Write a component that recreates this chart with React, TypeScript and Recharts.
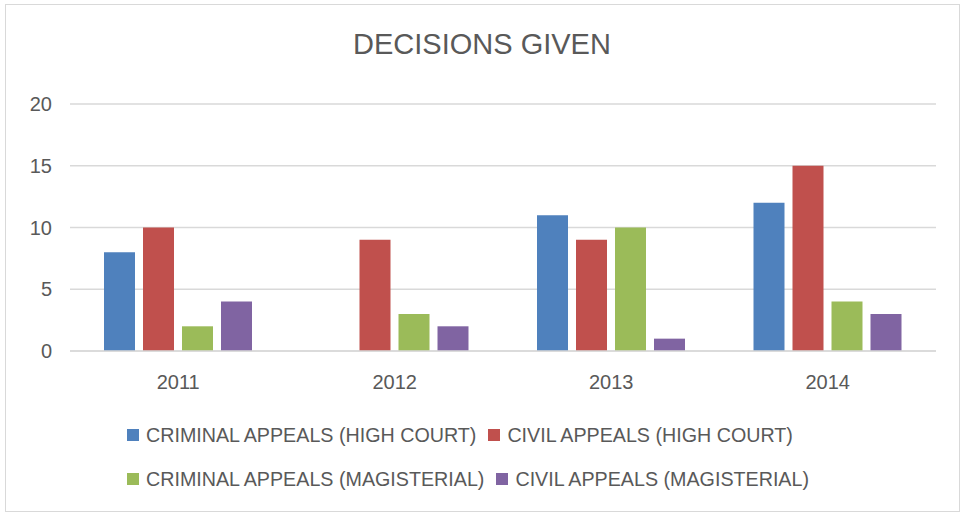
import { BarChart, Bar, XAxis, YAxis, CartesianGrid } from "recharts";

const years = ["2011", "2012", "2013", "2014"];
const criminalHigh = [8, 0, 11, 12];
const civilHigh = [10, 9, 9, 15];
const criminalMag = [2, 3, 10, 4];
const civilMag = [4, 2, 1, 3];
const yTicks = [0, 5, 10, 15, 20];

const series = [
  { key: "criminalHigh", name: "CRIMINAL APPEALS (HIGH COURT)", color: "#4F81BD" },
  { key: "civilHigh", name: "CIVIL APPEALS (HIGH COURT)", color: "#C0504D" },
  { key: "criminalMag", name: "CRIMINAL APPEALS (MAGISTERIAL)", color: "#9BBB59" },
  { key: "civilMag", name: "CIVIL APPEALS (MAGISTERIAL)", color: "#8064A2" },
];

const data = years.map((year, i) => ({
  year,
  criminalHigh: criminalHigh[i],
  civilHigh: civilHigh[i],
  criminalMag: criminalMag[i],
  civilMag: civilMag[i],
}));

const FONT = "'Liberation Sans', Arial, sans-serif";
const TEXT = "#595959";

// legend drawn by hand: two rows, in series order
function TwoRowLegend() {
  const rows = [series.slice(0, 2), series.slice(2, 4)];
  return (
    <div style={{ position: "absolute", left: 127, top: 413 }}>
      {rows.map((row, r) => (
        <div key={r} style={{ display: "flex", alignItems: "center", height: 44 }}>
          {row.map((s) => (
            <div key={s.key} style={{ display: "flex", alignItems: "center", marginRight: 12 }}>
              <span style={{ width: 12, height: 12, background: s.color, marginRight: 7, display: "inline-block" }} />
              <span style={{ fontSize: 19.7, color: TEXT, whiteSpace: "nowrap" }}>{s.name}</span>
            </div>
          ))}
        </div>
      ))}
    </div>
  );
}

export default function App() {
  return (
    <div style={{ position: "absolute", left: 0, top: 0, width: 964, height: 515, background: "#fff", fontFamily: FONT }}>
      <div
        style={{
          position: "absolute",
          left: 5,
          top: 4,
          width: 953,
          height: 506,
          border: "1px solid #d9d9d9",
        }}
      />
      <div
        style={{
          position: "absolute",
          left: 0,
          top: 28,
          width: 964,
          textAlign: "center",
          fontSize: 29,
          color: TEXT,
        }}
      >
        DECISIONS GIVEN
      </div>
      <BarChart
        width={964}
        height={515}
        data={data}
        margin={{ top: 104, right: 28, bottom: 104, left: 0 }}
        barSize={31}
        barGap={8}
        style={{ position: "absolute", left: 0, top: 0 }}
      >
        <CartesianGrid vertical={false} stroke="#d9d9d9" strokeWidth={1.3} />
        <XAxis
          dataKey="year"
          height={60}
          axisLine={{ stroke: "#d9d9d9", strokeWidth: 1.3 }}
          tickLine={false}
          tickSize={0}
          tickMargin={24}
          tick={{ fill: TEXT, fontSize: 20, fontFamily: FONT }}
        />
        <YAxis
          width={70}
          domain={[0, 20]}
          ticks={yTicks}
          axisLine={false}
          tickLine={false}
          tickSize={0}
          tickMargin={18}
          tick={{ fill: TEXT, fontSize: 20, fontFamily: FONT }}
        />
        {series.map((s) => (
          <Bar key={s.key} dataKey={s.key} name={s.name} fill={s.color} isAnimationActive={false} />
        ))}
      </BarChart>
      <TwoRowLegend />
    </div>
  );
}
